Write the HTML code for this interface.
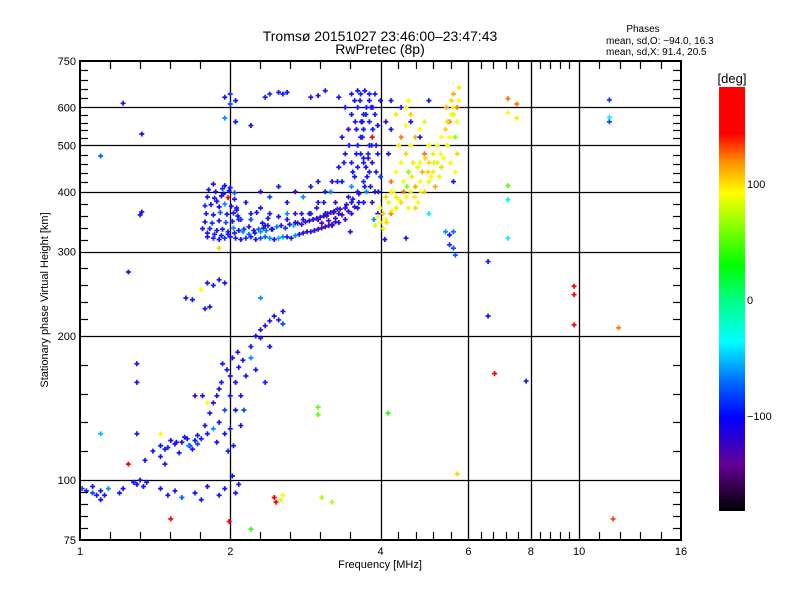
<!DOCTYPE html>
<html><head><meta charset="utf-8"><style>
body{margin:0;background:#fff}
svg{display:block;font-family:"Liberation Sans",sans-serif}
</style></head><body>
<svg id="chart" width="800" height="600" viewBox="0 0 800 600" xmlns="http://www.w3.org/2000/svg">
<defs>
<linearGradient id="cbar" x1="0" y1="1" x2="0" y2="0">
<stop offset="0" stop-color="#000000"/>
<stop offset="0.11" stop-color="#640096"/>
<stop offset="0.22" stop-color="#0000ff"/>
<stop offset="0.30" stop-color="#0064ff"/>
<stop offset="0.40" stop-color="#00ffff"/>
<stop offset="0.50" stop-color="#00ff80"/>
<stop offset="0.58" stop-color="#00ff00"/>
<stop offset="0.75" stop-color="#ffff00"/>
<stop offset="0.82" stop-color="#ff9600"/>
<stop offset="0.89" stop-color="#ff0000"/>
<stop offset="1" stop-color="#ff0000"/>
</linearGradient>
</defs>
<rect x="0" y="0" width="800" height="600" fill="#fff"/>
<text x="380" y="41" font-size="14" text-anchor="middle">Tromsø 20151027 23:46:00–23:47:43</text>
<text x="380" y="54" font-size="14" text-anchor="middle">RwPretec (8p)</text>
<text x="643" y="32" font-size="10" text-anchor="middle">Phases</text>
<text x="606" y="44" font-size="10">mean, sd,O: −94.0, 16.3</text>
<text x="606" y="55" font-size="10">mean, sd,X:  91.4, 20.5</text>
<g id="grid"></g>
<g id="marks"></g>
<g id="axes"></g>
<text x="380" y="568" font-size="11" text-anchor="middle">Frequency [MHz]</text>
<text x="0" y="0" font-size="11" text-anchor="middle" transform="translate(48,300) rotate(-90)">Stationary phase Virtual Height [km]</text>
<rect x="719" y="87" width="26" height="424" fill="url(#cbar)"/>
<text x="732" y="83" font-size="13" text-anchor="middle">[deg]</text>
<g id="cbticks"></g>
</svg>
<script>
// axis tick labels
const xLabels = [1, 2, 4, 6, 8, 10, 16];
const xGrid = [2, 4, 6, 8, 10];
const yLabels = [75, 100, 200, 300, 400, 500, 600, 750];
const yGrid = [100, 200, 300, 400, 500, 600];
const cbLabels = [100, 0, -100];

// F-region O trace bottom band
const aFreq = [1.8,1.85,1.9,1.95,2.0,2.05,2.1,2.15,2.2,2.25,2.3,2.35,2.4,2.45,2.5,2.55,2.6,2.65,2.7,2.75,2.8,2.85,2.9,2.95,3.0,3.05,3.1,3.15,3.2,3.25,
 1.82,1.88,1.93,1.98,2.03,2.08,2.13,2.18,2.23,2.28,2.33,2.38,2.43,2.48,2.53,2.58,2.63,2.68,2.73,2.78,2.83,2.88,2.93,2.98,3.03,3.08,3.13,3.18,3.23,3.28];
const aHeight = [322,320,318,320,322,320,318,320,322,318,320,322,320,318,320,322,322,320,324,326,328,330,330,332,334,336,338,340,342,346,
 335,332,334,330,336,332,334,338,332,334,336,340,334,338,340,336,342,340,344,342,346,348,350,352,354,356,360,362,364,368];
const aPhase = [-100,-95,-100,-90,-100,-95,-100,-90,-95,-100,-80,-70,-60,-100,-55,-60,-95,-100,-60,-100,-110,-120,-115,-120,-110,-120,-125,-115,-120,-110,
 -95,-100,-100,-95,-60,-100,-95,-100,-100,-70,-100,-95,-100,-65,-100,-90,-100,-50,-100,-120,-110,-120,-100,-120,-115,-110,-100,-120,-110,-100];

// left wall of O trace
const bFreq = [1.78,1.84,1.9,1.96,2.02,2.08, 1.79,1.85,1.91,1.97,2.03,2.07, 1.78,1.83,1.9,1.95,2.01,2.06, 1.8,1.86,1.92,1.98,2.04, 1.81,1.87,1.93,1.99,2.04, 1.85,1.95];
const bHeight = [346,344,348,345,347,350, 360,358,362,359,361,356, 374,376,372,377,373,370, 390,388,392,389,386, 404,400,406,402,398, 415,412];
const bPhase = [-100,-90,-100,-80,-100,-95, -100,-100,-70,-100,-95,-100, -90,-100,-100,-60,-100,-100, -100,-95,-100,150,-100, -100,-100,-90,-100,-80, -100,-100];

// rising O trace 3–4 MHz
const cFreq = [3.2,3.3,3.3,3.4,3.4,3.45,3.5,3.5,3.5,3.55,3.6,3.6,3.6,3.65,3.65,3.7,3.7,3.7,3.7,3.75,3.75,3.8,3.8,3.8,3.8,3.85,3.85,3.85,3.9,3.9,3.9,3.95,3.95,3.95,4.0,4.0,3.0,3.1,3.2,3.3,3.4,3.35,3.45,3.5,3.55,3.6,3.65,3.4,2.9,2.8,2.7,2.6,2.5,3.0,3.1,3.25,3.35,3.5,3.6,3.7,3.72,3.78,3.82,3.88,3.92,3.68,3.58,3.48];
const cHeight = [340,345,360,350,370,390,360,380,410,430,370,400,450,480,520,380,420,470,540,600,400,440,500,560,620,380,460,520,580,640,400,360,480,550,620,430,380,400,420,450,480,520,540,580,620,600,640,600,360,350,345,350,355,350,360,380,420,460,500,580,650,470,410,350,500,560,540,330];
const cPhase = [-120,-110,-100,-120,-100,-100,-110,-100,-60,-100,-100,-95,-100,-100,-110,-100,-90,-100,-100,-100,-60,-100,-100,-95,-100,-120,-100,150,-100,-100,-100,-110,-100,-100,-100,-80,-100,-100,-110,-100,-100,-100,-120,-100,-100,-100,-95,-100,-120,-110,-120,-100,-100,-120,-110,-120,-100,-100,-100,-100,-100,-110,-100,-60,-100,-100,-100,-120];

// extra dense O points (purple lower edge and thick band)
const eFreq = [3.05,3.15,3.25,3.35,3.45,3.55,3.62,3.12,3.22,3.32,3.42,3.52,3.62,3.72,3.76,3.74,3.78,3.84,3.86,3.83,3.66,3.64,3.56,3.46,3.38,3.28,3.18,3.08,2.98,2.88,2.78,3.52,3.58,3.68,3.74,3.8,3.86,3.92,3.96,3.7,
 1.76,1.8,1.86,1.92,1.98,2.04,1.88,1.94,2.0,2.06,2.12,2.18,2.24,2.3,2.36,2.42,2.2,2.26,2.32,2.38,1.48,1.56,1.64,1.72,1.58,1.66];
const eHeight = [344,348,352,358,364,372,380,356,362,368,376,386,396,410,430,450,480,500,540,600,560,620,560,500,460,420,400,380,370,360,360,440,480,520,580,640,600,440,400,460,
 335,328,326,324,326,328,382,396,408,366,330,326,328,330,332,334,350,362,344,352,116,120,122,124,114,118];
const ePhase = [-130,-125,-130,-120,-125,-110,-100,-120,-125,-130,-120,-110,-100,-100,-100,-100,-95,-100,-100,-100,-100,-100,-110,-100,-100,-100,-60,-100,-100,-100,-100,-100,-100,-95,-100,-100,-100,-100,-100,-100,
 -100,-100,-95,-100,-100,-100,-100,-100,-100,-100,-60,-70,-100,-60,-65,-100,-80,-100,-100,-110,-100,-100,-100,-100,-100,-100];

// points near top (~600–650 km) and scattered mid F points
const dFreq = [1.95,2.0,2.05,2.0,2.35,2.4,2.5,2.6,2.55,2.9,3.0,3.1,3.3,3.5,3.6,2.05,2.2,1.95,2.3,2.4,2.6,2.7,2.5,2.8,2.2,2.4,2.9,2.1,2.15,2.6,2.35,2.7,3.0,2.3];
const dHeight = [630,640,620,610,630,640,645,645,640,630,635,650,630,640,650,560,550,570,370,390,380,400,410,390,360,360,410,350,380,360,340,360,420,400];
const dPhase = [-100,-90,-100,-80,-100,-90,-100,-100,-95,-110,-110,-100,-100,-100,-100,-100,-100,-60,-100,-80,-100,-110,-100,-60,-100,-100,-100,-90,-100,-60,-100,-120,-100,-110];

// X trace (yellow)
const xFreq = [3.9,4.0,4.05,4.1,4.2,4.0,4.15,4.3,4.4,4.5,4.6,4.7,4.8,4.9,5.0,5.1,4.2,4.3,4.4,4.5,4.6,4.7,4.8,4.9,5.0,5.1,5.2,5.3,5.4,5.5,5.55,5.6,5.55,5.6,5.5,5.45,4.35,4.5,4.6,4.8,4.9,5.0,5.2,5.3,4.25,4.45,4.55,4.65,4.75,4.85,4.1,4.2,4.3,4.55,4.7,4.4,4.5,4.55,4.3,5.35,5.45,5.6,5.7,5.75,5.7,5.65,5.7,5.65,5.75,5.6,4.6,4.8,5.0,4.4,4.2,4.1,4.15,4.2,
 3.95,4.05,4.12,4.22,4.35,4.45,4.62,4.75,4.92,5.05,5.15,5.25,4.52,4.68,4.82,4.98,5.12,5.28,5.42,5.52];
const xHeight = [340,345,360,350,360,370,380,370,380,390,400,410,420,400,420,440,420,440,460,480,500,520,540,560,460,480,500,520,540,560,580,600,620,640,520,500,500,550,580,460,480,500,460,450,400,420,440,460,380,440,390,400,390,370,370,520,600,620,580,470,560,580,600,620,560,520,480,440,660,420,560,520,620,600,620,560,480,540,
 355,335,345,365,385,400,430,450,470,430,410,430,410,390,400,440,460,480,600,460];
const xPhase = [80,90,100,85,120,90,80,95,100,90,85,110,90,100,80,95,120,90,85,100,90,110,90,80,100,95,85,90,100,120,90,85,100,110,90,80,95,90,100,85,120,90,80,100,90,85,60,95,90,110,100,90,80,85,100,120,90,85,95,90,100,80,120,90,85,60,100,90,95,-100,-100,-100,-100,-100,-100,-120,-100,-100,
 90,80,100,85,90,120,95,80,100,90,110,85,60,95,90,100,80,90,110,85];

// lower (E-region) cluster
const lFreq = [1.40,1.45,1.5,1.55,1.6,1.65,1.7,1.75,1.8,1.45,1.52,1.62,1.68,1.72,1.35,1.48,
 1.78,1.82,1.85,1.88,1.9,1.92,1.95,1.97,2.0,2.0,2.02,2.05,2.05,2.08,2.1,2.12,2.15,1.85,1.9,1.95,1.8,2.1,2.0,1.93,2.07,2.03,1.88,1.98,2.13,1.76,
 2.2,2.25,2.3,2.35,2.4,2.45,2.5,2.55,2.3,2.2,2.25,2.35,2.4,2.55,
 1.03,1.06,1.08,1.1,1.12,1.14,1.06,1.1,1.01,1.28,1.3,1.32,1.34,1.36,1.22,1.2,1.45,1.5,1.55,1.6,1.7,1.75,1.8,1.9,1.95,2.05,2.08,2.02,
 1.63,1.68,1.75,1.8,1.85,1.9,1.95,1.82,1.78];
const lHeight = [115,118,117,119,120,118,121,122,125,112,121,123,116,119,110,108,
 130,138,145,150,132,160,140,170,150,128,180,160,140,172,150,178,165,128,155,125,145,130,165,175,185,118,120,115,140,150,
 190,200,206,210,215,220,216,212,198,180,170,160,190,225,
 95,94,93,95,93,96,97,91,96,99,98,100,97,99,96,94,96,93,95,92,94,91,97,93,96,94,98,102,
 240,238,250,258,255,262,258,230,228];
const lPhase = [-100,-100,-90,-100,-100,-60,-100,-100,-100,-100,-110,-100,-100,-80,-100,-100,
 -100,-100,-120,-100,-100,-100,-80,-100,-100,-100,-100,-110,-100,-100,-100,-100,-100,-60,-100,-100,90,-100,-120,-100,-100,-100,-100,-100,-80,-100,
 -100,-100,-100,-110,-100,-100,-100,-80,-100,-60,-100,-100,-100,-100,
 -100,-80,-100,-100,-100,-60,-100,-100,-80,-100,-100,-110,-100,-100,-100,-100,-100,-100,-100,-70,-100,-100,-120,-100,-100,-100,-100,-100,
 -100,-100,90,-100,-100,-100,-100,-100,-100];

// scattered isolated points
const sFreq = [1.22,1.33,1.1,1.33,1.32,1.25,1.3,1.3,1.1,1.3,1.45,1.25,1.52,1.99,2.2,2.45,2.47,2.52,2.55,3.05,3.2,3.0,3.0,4.14,5.7,11.7,6.57,6.57,9.77,9.77,9.77,12.0,6.77,7.83,7.2,7.5,7.2,7.5,7.2,7.2,5.0,7.2,11.5,11.5,11.5,4.08,5.4,5.5,5.6,5.5,5.6,5.65,4.5,1.9,2.3,1.7];
const sHeight = [612,528,475,363,358,272,175,160,125,125,125,108,83,82,79,92,90,91,93,92,90,142,137,138,103,83,286,220,254,244,211,208,167,161,626,610,585,570,412,385,360,320,622,572,560,318,330,325,330,310,305,295,320,305,240,150];
const sPhase = [-110,-110,-70,-110,-100,-110,-110,-110,-50,-100,90,140,160,140,40,150,140,80,85,70,70,50,50,40,100,130,-100,-100,150,140,150,120,140,-100,120,120,90,95,50,-40,-40,-40,-90,-40,-80,-100,-60,-100,-70,-90,-80,-70,-100,100,-60,-120];

const X0 = 80, X1 = 681, Y0 = 540, Y1 = 61;
function xS(f){ return X0 + Math.log2(f) / 4 * (X1 - X0); }
function yS(h){ return Y0 - Math.log10(h / 75) * (Y0 - Y1); }
function cbY(p){ return 300 - p * 1.16; }

const stops = [[-180,0,0,0],[-140,100,0,150],[-100,20,20,255],[-70,0,100,255],[-37,0,255,255],[0,0,255,128],[28,0,255,0],[89,255,255,0],[115,255,150,0],[140,255,0,0],[180,255,0,0]];
function colorOf(p){
  if (p === undefined) p = -100;
  p = Math.max(-180, Math.min(180, p));
  for (let i = 0; i < stops.length - 1; i++){
    const a = stops[i], b = stops[i+1];
    if (p >= a[0] && p <= b[0]){
      const t = (p - a[0]) / (b[0] - a[0]);
      const c = [1,2,3].map(k => Math.round(a[k] + (b[k]-a[k]) * t));
      return 'rgb(' + c.join(',') + ')';
    }
  }
  return 'rgb(255,0,0)';
}

const NS = 'http://www.w3.org/2000/svg';
function mk(tag, attrs, parent){
  const el = document.createElementNS(NS, tag);
  for (const k in attrs) el.setAttribute(k, attrs[k]);
  parent.appendChild(el);
  return el;
}

const grid = document.getElementById('grid');
xGrid.forEach(v => {
  const x = Math.round(xS(v)) + 0.5;
  const ln = mk('line', {x1:x, y1:Y1, x2:x, y2:Y0, stroke:'#000', 'stroke-width':1.3}, grid);
  
  
});
yGrid.forEach(v => {
  const y = Math.round(yS(v)) + 0.5;
  const ln = mk('line', {x1:X0, y1:y, x2:X1, y2:y, stroke:'#000', 'stroke-width':1.3}, grid);
  
  
});

const marks = document.getElementById('marks');
function drawCluster(fr, hs, ps, name){
  for (let i = 0; i < fr.length; i++){
    const x = xS(fr[i]), y = yS(hs[i]);
    const d = 'M' + (x-2.5) + ' ' + y + 'H' + (x+2.5) + 'M' + x + ' ' + (y-2.5) + 'V' + (y+2.5);
    const pt = mk('path', {d:d, stroke:colorOf(ps[i]), 'stroke-width':1.7, fill:'none'}, marks);
    
    
  }
}
drawCluster(aFreq, aHeight, aPhase, 'o-trace-point');
drawCluster(bFreq, bHeight, bPhase, 'o-trace-point');
drawCluster(cFreq, cHeight, cPhase, 'o-trace-point');
drawCluster(eFreq, eHeight, ePhase, 'o-trace-point');
drawCluster(dFreq, dHeight, dPhase, 'f-region-point');
drawCluster(xFreq, xHeight, xPhase, 'x-trace-point');
drawCluster(lFreq, lHeight, lPhase, 'e-region-point');
drawCluster(sFreq, sHeight, sPhase, 'scatter-point');

const axes = document.getElementById('axes');
const frame = mk('rect', {x:X0, y:Y1, width:X1-X0, height:Y0-Y1, fill:'none', stroke:'#000', 'stroke-width':2}, axes);


function tickLine(x1, y1, x2, y2){
  const t = mk('line', {x1:x1, y1:y1, x2:x2, y2:y2, stroke:'#000', 'stroke-width':1.2}, axes);
  
  
}
for (let i = 0; i < xLabels.length - 1; i++){
  const a = xS(xLabels[i]), b = xS(xLabels[i+1]);
  for (let k = 1; k < 5; k++){
    const x = Math.round(a + (b - a) * k / 5) + 0.5;
    tickLine(x, Y0, x, Y0 - 8); tickLine(x, Y1, x, Y1 + 8);
  }
}
xLabels.forEach(v => {
  const x = xS(v);
  const t = mk('text', {x:x, y:555, 'font-size':11, 'text-anchor':'middle'}, axes);
  t.textContent = v;
  
  
});
for (let i = 0; i < yLabels.length - 1; i++){
  const a = yS(yLabels[i]), b = yS(yLabels[i+1]);
  for (let k = 1; k < 5; k++){
    const y = Math.round(a + (b - a) * k / 5) + 0.5;
    tickLine(X0, y, X0 + 8, y); tickLine(X1, y, X1 - 8, y);
  }
}
yLabels.forEach(v => {
  const y = yS(v);
  const t = mk('text', {x:76, y:y + 4, 'font-size':11, 'text-anchor':'end'}, axes);
  t.textContent = v;
  
  
});

const cbt = document.getElementById('cbticks');
cbLabels.forEach(v => {
  const t = mk('text', {x:747, y:cbY(v) + 4, 'font-size':11}, cbt);
  t.textContent = v === -100 ? '−100' : String(v);
  
  
});
</script>
</body></html>
